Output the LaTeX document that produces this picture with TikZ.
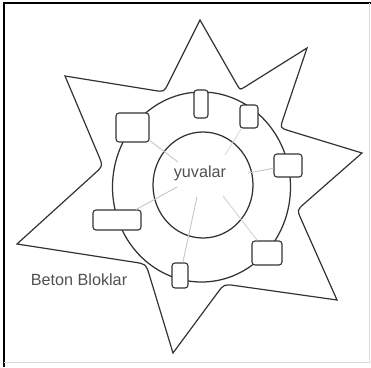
\documentclass[tikz,border=0pt]{standalone}
\usepackage{fontspec}
\setmainfont{Liberation Sans}
\usetikzlibrary{calc}
\definecolor{ink}{HTML}{333333}
\definecolor{txt}{HTML}{505050}
\tikzset{
  slot/.style={draw=ink, line width=1.1pt, fill=white, rounded corners=3pt, inner sep=0pt, minimum width=#1},
  spoke/.style={draw=gray!45, line width=0.9pt},
  starline/.style={draw=ink, line width=1.2pt, line join=miter},
  ring/.style={draw=ink, line width=1.25pt},
  lbl/.style={text=txt, font=\fontsize{16.2}{19}\selectfont, inner sep=0pt}
}
\begin{document}
\begin{tikzpicture}[x=1pt,y=-1pt]
\useasboundingbox (0,0) rectangle (371,367);
% frame
\draw[black, line width=1.6pt] (4,367) -- (4,3) -- (371,3);
\draw[gray!30, line width=0.8pt] (4,362) -- (369,362) -- (369,3);
% star points
\coordinate (P1) at (200,20);
\coordinate (C1) at (164,92);
\coordinate (P2) at (65,76);
\coordinate (C2) at (103,166);
\coordinate (P3) at (17,244);
\coordinate (C3) at (146,264);
\coordinate (P4) at (173,353);
\coordinate (C4) at (224,284);
\coordinate (P5) at (337,300);
\coordinate (C5) at (297,210);
\coordinate (P6) at (362,153);
\coordinate (C6) at (280,128);
\coordinate (P7) at (307,48);
\coordinate (C7) at (240,90);
\draw[starline]
  (P1) -- ($(C1)!10pt!(P1)$) .. controls (C1) .. ($(C1)!10pt!(P2)$)
  -- (P2) -- ($(C2)!12pt!(P2)$) .. controls (C2) .. ($(C2)!12pt!(P3)$)
  -- (P3) -- ($(C3)!12pt!(P3)$) .. controls (C3) .. ($(C3)!12pt!(P4)$)
  -- (P4) -- ($(C4)!12pt!(P4)$) .. controls (C4) .. ($(C4)!12pt!(P5)$)
  -- (P5) -- ($(C5)!10pt!(P5)$) .. controls (C5) .. ($(C5)!10pt!(P6)$)
  -- (P6) -- ($(C6)!10pt!(P6)$) .. controls (C6) .. ($(C6)!10pt!(P7)$)
  -- (P7) -- ($(C7)!6pt!(P7)$) .. controls (C7) .. ($(C7)!6pt!(P1)$)
  -- cycle;
% rings
\draw[ring] (201.5,187) ellipse [x radius=89, y radius=95];
\draw[ring] (203,185) ellipse [x radius=50, y radius=53];
% slots
\node[slot=33pt, minimum height=29pt] (R1) at (132.5,127.5) {};
\node[slot=14pt, minimum height=28pt] (R2) at (201,104) {};
\node[slot=18pt, minimum height=23pt] (R3) at (249,116.5) {};
\node[slot=28pt, minimum height=23pt] (R4) at (288,165.5) {};
\node[slot=30pt, minimum height=24pt] (R5) at (267,253) {};
\node[slot=16pt, minimum height=25pt] (R6) at (180,275.5) {};
\node[slot=48pt, minimum height=20pt] (R7) at (117,220) {};
% spoke ends
\coordinate (E1) at (178,162);
\coordinate (E2) at (225,155);
\coordinate (E3) at (248,173);
\coordinate (E4) at (177,187);
\coordinate (E5) at (197,197);
\coordinate (E6) at (223,196);
\draw[spoke] (R1) -- (E1);
\draw[spoke, gray!30] (R3) -- (E2);
\draw[spoke] (R4) -- (E3);
\draw[spoke] (R7) -- (E4);
\draw[spoke] (R6) -- (E5);
\draw[spoke, gray!35] (R5) -- (E6);
% labels
\node[lbl] (yuva) at (200,173) {yuvalar};
\node[lbl] (beton) at (79,280) {Beton Bloklar};
\end{tikzpicture}
\end{document}
